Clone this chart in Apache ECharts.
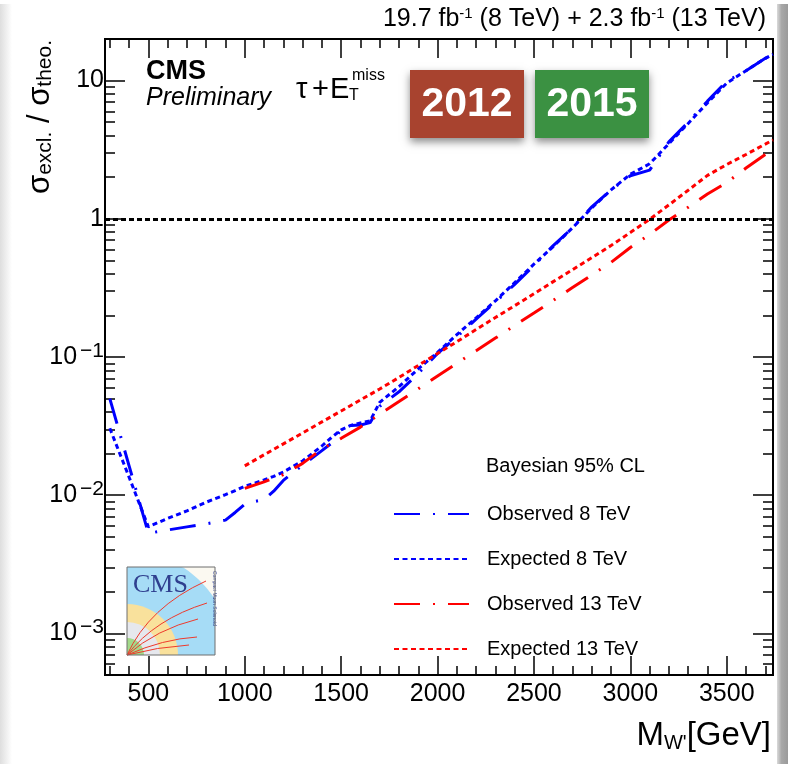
<!DOCTYPE html>
<html>
<head>
<meta charset="utf-8">
<script src="https://cdn.jsdelivr.net/npm/echarts@6/dist/echarts.min.js"></script>
<style>
  html, body { margin: 0; padding: 0; background: #fff; }
  #chart { width: 788px; height: 764px; }
</style>
</head>
<body>
<div id="chart"></div>
<script>
// W' -> tau nu exclusion limits: ratio of excluded to theoretical cross section
const mass8 = [300, 400, 500, 600, 700, 800, 900, 950, 1000, 1050, 1100, 1150, 1200, 1300, 1400, 1450, 1500, 1550, 1600, 1650, 1700, 1800, 1900, 2000, 2100, 2200, 2300, 2400, 2500, 2600, 2700, 2800, 2900, 3000, 3100, 3200, 3300, 3400, 3500, 3600, 3700, 3740];
const observed8 = [0.050, 0.0163, 0.0053, 0.0056, 0.0059, 0.0062, 0.0066, 0.0075, 0.0086, 0.0090, 0.0093, 0.0107, 0.0128, 0.0165, 0.0210, 0.0238, 0.0300, 0.0320, 0.0322, 0.0335, 0.0440, 0.0560, 0.0760, 0.106, 0.140, 0.188, 0.250, 0.335, 0.460, 0.640, 0.860, 1.22, 1.62, 2.05, 2.25, 3.6, 5.0, 7.1, 9.9, 11.8, 14.5, 15.5];
const expected8 = [0.0305, 0.0135, 0.0059, 0.0068, 0.0077, 0.0089, 0.0101, 0.0108, 0.0116, 0.0122, 0.0129, 0.0137, 0.0147, 0.0177, 0.0227, 0.0262, 0.0297, 0.0320, 0.0333, 0.0345, 0.0470, 0.0610, 0.0820, 0.108, 0.145, 0.192, 0.255, 0.345, 0.470, 0.630, 0.860, 1.20, 1.62, 2.10, 2.50, 3.50, 4.90, 6.90, 9.60, 11.8, 14.5, 15.5];

const mass13 = [1000, 1100, 1200, 1300, 1400, 1500, 1600, 1700, 1800, 1900, 2000, 2100, 2200, 2300, 2400, 2500, 2600, 2700, 2800, 2900, 3000, 3100, 3200, 3300, 3400, 3500, 3600, 3700, 3740];
const observed13 = [0.0112, 0.0125, 0.0141, 0.0170, 0.0216, 0.0258, 0.0311, 0.0386, 0.0476, 0.0588, 0.073, 0.090, 0.111, 0.137, 0.169, 0.208, 0.257, 0.318, 0.392, 0.484, 0.62, 0.77, 0.98, 1.21, 1.51, 1.83, 2.33, 2.92, 3.15];
const expected13 = [0.0163, 0.0196, 0.0235, 0.0282, 0.0339, 0.0407, 0.0489, 0.0587, 0.0711, 0.0869, 0.106, 0.129, 0.158, 0.193, 0.235, 0.287, 0.351, 0.428, 0.523, 0.641, 0.796, 0.99, 1.26, 1.61, 2.06, 2.47, 2.92, 3.47, 3.72];

const seriesNames = ['Observed 8 TeV', 'Expected 8 TeV', 'Observed 13 TeV', 'Expected 13 TeV'];

// axis ranges and tick marks
const xRange = [275, 3740];
const yRange = [5e-4, 20];
const xLabels = [500, 1000, 1500, 2000, 2500, 3000, 3500];
const xMinorTicks = [];
for (let v = 300; v <= 3700; v += 100) if (v % 500 !== 0) xMinorTicks.push(v);
const yMajorTicks = [1e-3, 1e-2, 1e-1, 1, 10];
const yMinorTicks = [];
for (let e = -4; e <= 1; e++) for (let m = 2; m <= 9; m++) {
  const v = m * Math.pow(10, e);
  if (v > yRange[0] && v < yRange[1]) yMinorTicks.push(v);
}

const FONT = '"Liberation Sans", Arial, Helvetica, sans-serif';
const BLUE = '#0000ff', RED = '#ff0000';
const DASHDOT = [26, 13, 2, 13];
const DOTTED = [5, 3.5];

const zip = (xs, ys) => xs.map((x, i) => [x, ys[i]]);

function limitLine(name, xs, ys, color, dash, extra) {
  return Object.assign({
    name: name,
    type: 'line',
    data: zip(xs, ys),
    symbol: 'none',
    showSymbol: false,
    silent: true,
    animation: false,
    lineStyle: { color: color, width: 3, type: dash },
    itemStyle: { color: color },
    z: 3
  }, extra || {});
}

// frame tick axes (inside ticks on all four sides, ROOT style)
const TICK_STYLE = { color: '#000', width: 1.5 };
function xTickAxis(position, values, len) {
  return {
    type: 'value', position: position, min: xRange[0], max: xRange[1],
    axisLine: { show: false, onZero: false }, splitLine: { show: false }, axisLabel: { show: false },
    axisTick: { show: true, inside: true, length: len, customValues: values, lineStyle: TICK_STYLE }
  };
}
const logMin = Math.log10(yRange[0]), logMax = Math.log10(yRange[1]);
function yTickAxis(position, values, len) {
  return {
    type: 'value', position: position, min: logMin, max: logMax,
    axisLine: { show: false, onZero: false }, splitLine: { show: false }, axisLabel: { show: false },
    axisTick: { show: true, inside: true, length: len, customValues: values.map(v => Math.log10(v)), lineStyle: TICK_STYLE }
  };
}

// CMS detector logo drawn from primitive shapes
function cmsLogo(x0, y0, size) {
  const cx = 0, cy = size;
  const outer = 104;
  const pts = [[0, size]];
  for (let i = 0; i <= 60; i++) {
    const a = -Math.PI / 2 + (Math.PI / 2) * i / 60;
    const px = Math.min(cx + outer * Math.cos(a), size);
    const py = Math.max(cy + outer * Math.sin(a), 0);
    pts.push([px, py]);
  }
  const ring = (r, color) => ({
    type: 'sector',
    shape: { cx: cx, cy: cy, r: r, r0: 0, startAngle: -Math.PI / 2, endAngle: 0, clockwise: true },
    style: { fill: color }
  });
  const track = (x2, y2, cpx1, cpy1) => ({
    type: 'bezierCurve',
    shape: { x1: 0, y1: size, x2: x2, y2: y2, cpx1: cpx1, cpy1: cpy1 },
    style: { stroke: '#ee3a2c', lineWidth: 1, fill: null }
  });
  return {
    type: 'group', x: x0, y: y0, z: 10,
    children: [
      { type: 'rect', shape: { x: 0, y: 0, width: size, height: size }, style: { fill: '#fbf9f1' } },
      { type: 'polygon', shape: { points: pts }, style: { fill: '#a6dcf6' } },
      ring(51, '#f9e19c'),
      ring(33, '#e6e8ee'),
      ring(17, '#a2d98a'),
      track(79, 14, 22, 40),
      track(80, 36, 28, 52),
      track(71, 52, 30, 62),
      track(70, 70, 36, 72),
      track(62, 78, 30, 80),
      { type: 'text', x: 6, y: 5, style: { text: 'CMS', fontFamily: '"Liberation Serif", "DejaVu Serif", serif', fontSize: 26, fill: '#2f3f8f' } },
      { type: 'text', x: size - 3, y: 4, rotation: -Math.PI / 2, style: { text: 'Compact Muon Solenoid', fontFamily: FONT, fontSize: 5, fill: '#2f3f8f', align: 'left', verticalAlign: 'bottom' } },
      { type: 'rect', shape: { x: 0, y: 0, width: size, height: size }, style: { fill: null, stroke: '#6f6f6f', lineWidth: 1 } }
    ]
  };
}

function badge(x, y, w, h, color, label) {
  return {
    type: 'group', x: x, y: y, z: 10,
    children: [
      { type: 'rect', shape: { x: 0, y: 0, width: w, height: h },
        style: { fill: color, shadowBlur: 8, shadowColor: 'rgba(0,0,0,0.45)', shadowOffsetY: 4 } },
      { type: 'text', x: w / 2, y: h / 2 + 1,
        style: { text: label, fontFamily: FONT, fontWeight: 'bold', fontSize: 41, fill: '#fff', align: 'center', verticalAlign: 'middle' } }
    ]
  };
}

const chart = echarts.init(document.getElementById('chart'), null, { renderer: 'canvas' });

chart.setOption({
  backgroundColor: '#fff',
  animation: false,
  grid: { left: 105, right: 15, top: 39, bottom: 89, show: true, borderColor: '#000', borderWidth: 2, backgroundColor: 'transparent' },
  xAxis: [
    {
      type: 'value', position: 'bottom', min: xRange[0], max: xRange[1],
      axisLine: { show: false, onZero: false }, splitLine: { show: false },
      axisTick: { show: true, inside: true, length: 19, customValues: xLabels, lineStyle: TICK_STYLE },
      axisLabel: { customValues: xLabels, formatter: v => String(v), fontFamily: FONT, fontSize: 25, color: '#000', margin: 7 }
    },
    xTickAxis('bottom', xMinorTicks, 9),
    xTickAxis('top', xLabels, 19),
    xTickAxis('top', xMinorTicks, 9)
  ],
  yAxis: [
    {
      type: 'log', logBase: 10, min: yRange[0], max: yRange[1], position: 'left',
      axisLine: { show: false, onZero: false }, axisTick: { show: false }, splitLine: { show: false },
      minorTick: { show: false }, minorSplitLine: { show: false },
      axisLabel: {
        showMinLabel: false, showMaxLabel: false, margin: 1,
        fontFamily: FONT, fontSize: 25, color: '#000',
        formatter: function (v) {
          const e = Math.log10(v);
          const r = Math.round(e);
          if (Math.abs(e - r) > 1e-6) return '';
          if (r === 1) return '10';
          if (r === 0) return '1';
          return '10{s|\u2212' + (-r) + '}';
        },
        rich: { s: { fontFamily: FONT, fontSize: 21, color: '#000', padding: [0, 0, 12, 3] } }
      }
    },
    yTickAxis('left', yMajorTicks, 20),
    yTickAxis('left', yMinorTicks, 10),
    yTickAxis('right', yMajorTicks, 20),
    yTickAxis('right', yMinorTicks, 10)
  ],
  legend: {
    orient: 'vertical', left: 393, top: 504, padding: 0,
    itemWidth: 75, itemHeight: 20, itemGap: 25,
    itemStyle: { opacity: 0 },
    textStyle: { fontFamily: FONT, fontSize: 20, color: '#000', padding: [0, 0, 0, 13] },
    data: seriesNames,
    selectedMode: false
  },
  series: [
    limitLine(seriesNames[0], mass8, observed8, BLUE, DASHDOT, {
      markLine: {
        silent: true, symbol: ['none', 'none'], label: { show: false },
        lineStyle: { color: '#000', width: 3, type: [5, 3] },
        data: [{ yAxis: 1 }]
      }
    }),
    limitLine(seriesNames[1], mass8, expected8, BLUE, DOTTED),
    limitLine(seriesNames[2], mass13, observed13, RED, DASHDOT),
    limitLine(seriesNames[3], mass13, expected13, RED, DOTTED)
  ],
  graphic: [
    // picture-frame shading at the page edges
    { type: 'rect', z: -1, shape: { x: 0, y: 4, width: 12, height: 760 },
      style: { fill: new echarts.graphic.LinearGradient(0, 0, 1, 0, [{ offset: 0, color: '#dedede' }, { offset: 1, color: '#ffffff' }]) } },
    { type: 'rect', z: -1, shape: { x: 777, y: 4, width: 11, height: 760 },
      style: { fill: new echarts.graphic.LinearGradient(0, 0, 1, 0, [{ offset: 0, color: '#dadada' }, { offset: 0.4, color: '#a8a8a8' }, { offset: 1, color: '#9a9a9a' }]) } },
    // luminosity / energy header
    { type: 'text', x: 766, y: 19, z: 10,
      style: {
        text: '19.7 fb{s|-1} (8 TeV) + 2.3 fb{s|-1} (13 TeV)',
        fontFamily: FONT, fontSize: 25, fill: '#000', align: 'right', verticalAlign: 'middle',
        rich: { s: { fontFamily: FONT, fontSize: 15, fill: '#000', padding: [0, 0, 11, 0] } }
      } },
    { type: 'text', x: 146, y: 72, z: 10, style: { text: 'CMS', fontFamily: FONT, fontWeight: 'bold', fontSize: 27, fill: '#000', verticalAlign: 'middle' } },
    { type: 'text', x: 146, y: 98, z: 10, style: { text: 'Preliminary', fontFamily: FONT, fontStyle: 'italic', fontSize: 25, fill: '#000', verticalAlign: 'middle' } },
    { type: 'text', x: 296, y: 90, z: 10, style: { text: '\u03c4', fontFamily: FONT, fontSize: 29, fill: '#000', verticalAlign: 'middle' } },
    { type: 'text', x: 312, y: 90, z: 10, style: { text: '+', fontFamily: FONT, fontSize: 29, fill: '#000', verticalAlign: 'middle' } },
    { type: 'text', x: 330, y: 90, z: 10, style: { text: 'E', fontFamily: FONT, fontSize: 29, fill: '#000', verticalAlign: 'middle' } },
    { type: 'text', x: 349, y: 96, z: 10, style: { text: 'T', fontFamily: FONT, fontSize: 16, fill: '#000', verticalAlign: 'middle' } },
    { type: 'text', x: 352, y: 76, z: 10, style: { text: 'miss', fontFamily: FONT, fontSize: 16, fill: '#000', verticalAlign: 'middle' } },
    badge(410, 70, 114, 68, '#a8432f', '2012'),
    badge(535, 70, 114, 68, '#3b9142', '2015'),
    { type: 'text', x: 486, y: 466, z: 10, style: { text: 'Bayesian 95% CL', fontFamily: FONT, fontSize: 20, fill: '#000', verticalAlign: 'middle' } },
    // axis titles
    { type: 'text', x: 40, y: 40, rotation: Math.PI / 2, z: 10,
      style: {
        text: '\u03c3{sub|excl.} / \u03c3{sub|theo.}',
        fontFamily: FONT, fontSize: 31, fill: '#000', align: 'right', verticalAlign: 'middle',
        rich: { sub: { fontFamily: FONT, fontSize: 21, fill: '#000', padding: [11, 0, 0, 0] } }
      } },
    { type: 'text', x: 771, y: 736, z: 10,
      style: {
        text: 'M{sub|W\'}[GeV]',
        fontFamily: FONT, fontSize: 33, fill: '#000', align: 'right', verticalAlign: 'middle',
        rich: { sub: { fontFamily: FONT, fontSize: 20, fill: '#000', padding: [15, 0, 0, 0] } }
      } },
    cmsLogo(127, 567, 88)
  ]
});
</script>
</body>
</html>
